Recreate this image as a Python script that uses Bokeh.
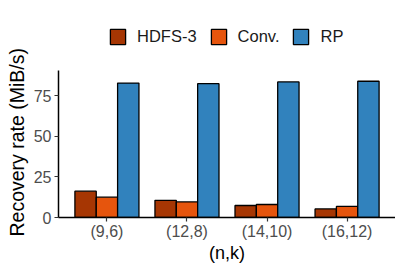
from bokeh.plotting import figure
from bokeh.models import ColumnDataSource, FactorRange, Range1d, Legend, LegendItem, FixedTicker, Title
from bokeh.transform import dodge
from bokeh.embed import file_html
from bokeh.resources import INLINE

categories = ["(9,6)", "(12,8)", "(14,10)", "(16,12)"]
hdfs3 = [16.2, 10.6, 7.4, 5.3]
conv = [12.5, 9.6, 8.0, 6.8]
rp = [82.8, 82.4, 83.5, 83.9]
series_names = ["HDFS-3", "Conv.", "RP"]
series_colors = ["#A63603", "#E6550D", "#3182BD"]
y_ticks = [0, 25, 50, 75]
y_axis_top = 90.5

FONT = "Liberation Sans"

src = ColumnDataSource(dict(cat=categories, hdfs3=hdfs3, conv=conv, rp=rp))

p = figure(
    frame_width=337, frame_height=197,
    x_range=FactorRange(factors=categories, range_padding=0.105, range_padding_units="absolute"),
    y_range=Range1d(0, 121.3),
    output_backend="svg", toolbar_location=None,
    min_border_left=49, min_border_right=0, min_border_top=20, min_border_bottom=30,
)
p.outline_line_color = None
p.background_fill_color = "white"
p.border_fill_color = "white"
p.xgrid.visible = False
p.ygrid.visible = False

bw = 0.8 / 3
cols = ["hdfs3", "conv", "rp"]
offsets = [-bw, 0.0, bw]
renderers = []
for col, off, color in zip(cols, offsets, series_colors):
    r = p.vbar(x=dodge("cat", off, range=p.x_range), top=col, width=bw, source=src,
               fill_color=color, line_color="black", line_width=1.3)
    renderers.append(r)

legend = Legend(
    items=[LegendItem(label=n, renderers=[r]) for n, r in zip(series_names, renderers)],
    orientation="horizontal",
    location=(50, 171),
    glyph_width=19, glyph_height=19,
    label_standoff=10, spacing=12,
    padding=0, margin=0,
    border_line_color=None, background_fill_alpha=0,
    label_text_font=FONT, label_text_font_size="16.5px", label_text_color="#1A1A1A",
)
p.add_layout(legend, "center")

for ax in (p.xaxis[0], p.yaxis[0]):
    ax.axis_line_color = "black"
    ax.axis_line_width = 1.5
    ax.major_tick_line_color = "#333333"
    ax.major_tick_line_width = 1.2
    ax.major_tick_out = 4
    ax.major_tick_in = 0
    ax.minor_tick_line_color = None
    ax.major_label_text_font = FONT
    ax.major_label_text_font_size = "16px"
    ax.major_label_text_color = "#4D4D4D"
    ax.major_label_standoff = 3
    ax.axis_label_text_font = FONT
    ax.axis_label_text_font_style = "normal"
    ax.axis_label_text_color = "black"

p.yaxis[0].ticker = FixedTicker(ticks=y_ticks)
p.yaxis[0].bounds = (0, y_axis_top)
p.xaxis[0].major_label_standoff = 1
p.xaxis[0].axis_label = "(n,k)"
p.xaxis[0].axis_label_text_font_size = "18px"
p.xaxis[0].axis_label_standoff = 0

y_title = Title(text="Recovery rate (MiB/s)", align="left", offset=-19, standoff=6,
                text_font=FONT, text_font_size="19.5px", text_font_style="normal",
                text_color="black")
p.add_layout(y_title, "left")

open("out.html", "w").write(file_html(p, INLINE))
